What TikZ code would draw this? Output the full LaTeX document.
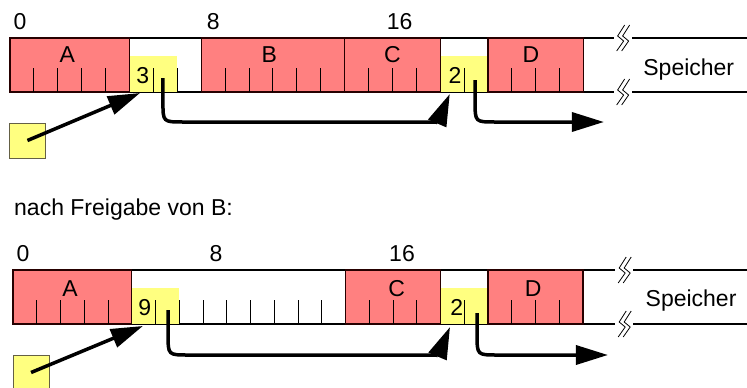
\documentclass[tikz,border=0pt]{standalone}
\usepackage{fontspec}
\setmainfont{Liberation Sans}
\usetikzlibrary{arrows.meta}
\definecolor{memred}{HTML}{FF8080}
\definecolor{memyel}{HTML}{FFFF80}
\tikzset{
  blk/.style={fill=memred, draw=black!85!red, line width=1.3pt},
  tickline/.style={line width=0.9pt},
  barline/.style={line width=1.3pt},
  lbl/.style={font=\fontsize{23}{27}\selectfont, inner sep=0pt, anchor=base},
  ptrbox/.style={fill=memyel, draw=black!70!yellow, line width=1pt, minimum width=36pt, minimum height=35pt, inner sep=0pt},
  arr/.style={line width=3.5pt, -{Triangle[length=32pt,width=19pt]}},
  brk/.pic={
    \fill[white] (-7pt,-1.5pt) rectangle (11pt,1.5pt);
    \draw[line width=0.8pt] (4pt,13pt) -- (-3pt,2pt) -- (3pt,-3pt) -- (-4pt,-13pt);
    \draw[line width=0.8pt] (9pt,13pt) -- (2pt,2pt) -- (8pt,-3pt) -- (1pt,-13pt);
  }
}
\begin{document}
\begin{tikzpicture}[x=1pt, y=-1pt]
\clip (0,0) rectangle (747,388);
\useasboundingbox (0,0) rectangle (747,388);
\fill[white] (0,0) rectangle (747,388);

% ---------------- top ----------------
\begin{scope}[shift={(10pt,-38pt)}, x=23.9pt, y=-1pt]
  \draw[barline] (0,0) -- (31,0) (0,54) -- (31,54);
  \fill[memyel] (5,18) rectangle (7,54);
  \fill[memyel] (18,18) rectangle (20,54);
  \path[blk] (0,0) rectangle (5,54);
  \path[blk] (8,0) rectangle (14,54);
  \path[blk] (14,0) rectangle (18,54);
  \path[blk] (20,0) rectangle (24,54);
  \foreach \p in {1,2,3,4,6,7,9,10,11,12,13,15,16,17,19,21,22,23}
    \draw[tickline] (\p,30) -- (\p,54);
  \pic at (25.55,0) {brk};
  \pic at (25.55,54) {brk};
  \node[lbl] (ta0) at (0.42,-9) {0};
  \node[lbl] (ta8) at (8.5,-9) {8};
  \node[lbl] (ta16) at (16.3,-9) {16};
  \node[lbl] (tA) at (2.4,24) {A};
  \node[lbl] (tB) at (10.85,24) {B};
  \node[lbl] (tC) at (16.0,24) {C};
  \node[lbl] (tD) at (21.8,24) {D};
  \node[lbl] (t3) at (5.55,45) {3};
  \node[lbl] (t2) at (18.62,45) {2};
  \node[lbl] (tsp) at (28.4,37) {Speicher};
  \node[ptrbox] (tptr) at (0.73,102.5) {};
  \coordinate (th1) at (5.44,55);
  \coordinate (ts1) at (6.4,40);
  \coordinate (th2) at (18.4,56);
  \coordinate (ts2) at (19.46,42);
  \coordinate (th3) at (24.85,84);
  \draw[arr] (tptr.center) -- (th1);
  \draw[arr] (ts1) -- (6.4,64) .. controls (6.4,84) .. (7.25,84) -- (17.3,84) .. controls (17.9,84) .. (th2);
  \draw[arr] (ts2) -- (19.46,64) .. controls (19.46,84) .. (20.3,84) -- (th3);
\end{scope}

\node[lbl, anchor=base west] (cap) at (14,215) {nach Freigabe von B:};

% ---------------- bottom ----------------
\begin{scope}[shift={(13pt,-270pt)}, x=23.75pt, y=-1pt]
  \draw[barline] (0,0) -- (31,0) (0,54) -- (31,54);
  \fill[memyel] (5,18) rectangle (7,54);
  \fill[memyel] (18,18) rectangle (20,54);
  \path[blk] (0,0) rectangle (5,54);
  \path[blk] (14,0) rectangle (18,54);
  \path[blk] (20,0) rectangle (24,54);
  \foreach \p in {1,2,3,4,6,7,8,9,10,11,12,13,15,16,17,19,21,22,23}
    \draw[tickline] (\p,30) -- (\p,54);
  \pic at (25.65,0) {brk};
  \pic at (25.65,54) {brk};
  \node[lbl] (ba0) at (0.42,-9) {0};
  \node[lbl] (ba8) at (8.55,-9) {8};
  \node[lbl] (ba16) at (16.38,-9) {16};
  \node[lbl] (bA) at (2.4,26) {A};
  \node[lbl] (bC) at (16.15,26) {C};
  \node[lbl] (bD) at (21.9,26) {D};
  \node[lbl] (b9) at (5.55,45) {9};
  \node[lbl] (b2) at (18.68,45) {2};
  \node[lbl] (bsp) at (28.55,36) {Speicher};
  \node[ptrbox] (bptr) at (0.76,102.5) {};
  \coordinate (bh1) at (5.47,56);
  \coordinate (bs1) at (6.53,40);
  \coordinate (bh2) at (18.4,57);
  \coordinate (bs2) at (19.54,43);
  \coordinate (bh3) at (25.05,85);
  \draw[arr] (bptr.center) -- (bh1);
  \draw[arr] (bs1) -- (6.53,65) .. controls (6.53,85) .. (7.38,85) -- (17.3,85) .. controls (17.9,85) .. (bh2);
  \draw[arr] (bs2) -- (19.54,65) .. controls (19.54,85) .. (20.4,85) -- (bh3);
\end{scope}
\end{tikzpicture}
\end{document}
